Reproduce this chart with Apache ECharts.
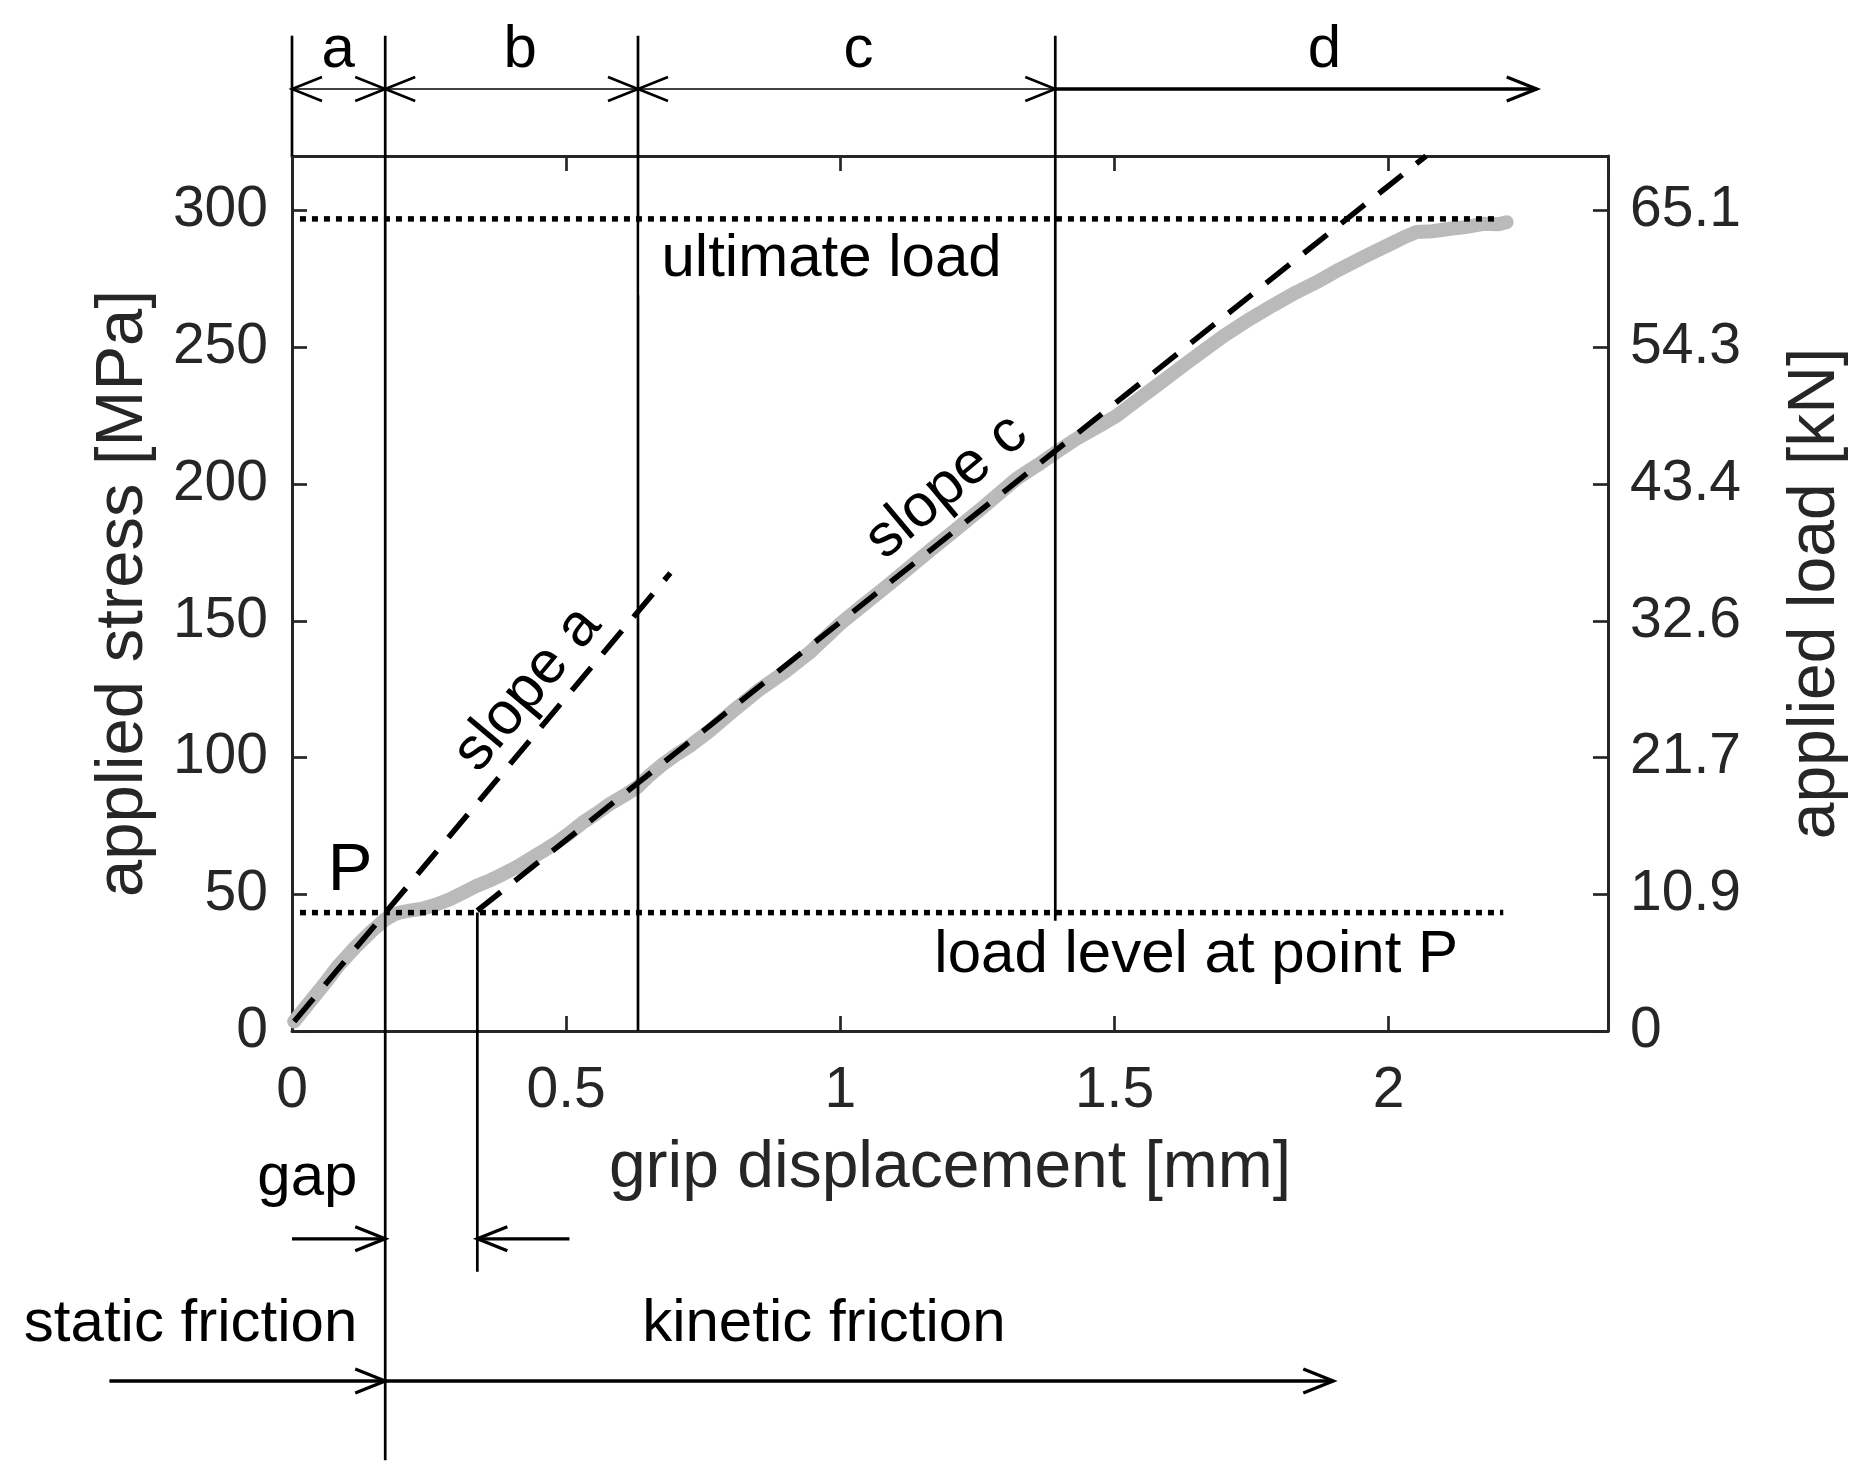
<!DOCTYPE html>
<html>
<head>
<meta charset="utf-8">
<script src="https://cdn.jsdelivr.net/npm/echarts@6/dist/echarts.min.js"></script>
<style>
  html, body { margin: 0; padding: 0; background: #fff; }
  #main { width: 1863px; height: 1481px; }
</style>
</head>
<body>
<div id="main"></div>
<script>
// axis ticks
const stressTicks = [0, 50, 100, 150, 200, 250, 300];
const loadLabels = ['0', '10.9', '21.7', '32.6', '43.4', '54.3', '65.1'];

// measured curve: grip displacement [mm], applied stress [MPa]
const curve = [
  [0.004, 3.5], [0.03, 10], [0.056, 16.4], [0.085, 24], [0.117, 31], [0.145, 36.5],
  [0.170, 40.8], [0.185, 42.5], [0.196, 43.3], [0.215, 44], [0.238, 44.7], [0.262, 46.2],
  [0.287, 48.1], [0.311, 50.5], [0.336, 53], [0.36, 55], [0.384, 57.3], [0.41, 60],
  [0.433, 62.8], [0.458, 65.8], [0.482, 68.9], [0.506, 72.3], [0.53, 76.2], [0.555, 79.5],
  [0.579, 82.9], [0.605, 86], [0.631, 89.4], [0.652, 93.5], [0.676, 97.5], [0.70, 101],
  [0.725, 104.2], [0.76, 109.5], [0.804, 117], [0.85, 124.5], [0.90, 131.5], [0.944, 138.4],
  [1.0, 149], [1.04, 155.5], [1.078, 161.6], [1.12, 168.5], [1.165, 176], [1.212, 183.6],
  [1.26, 191.5], [1.321, 201.9], [1.36, 207], [1.393, 211.6], [1.43, 216.5], [1.473, 221.4],
  [1.504, 225], [1.54, 230.5], [1.58, 236.5], [1.625, 243.3], [1.66, 248.5], [1.70, 254.3],
  [1.747, 260.4], [1.79, 265.5], [1.83, 270], [1.869, 273.9], [1.91, 278.5], [1.96, 283.6],
  [2.0, 287.5], [2.03, 290.5], [2.051, 292.2], [2.08, 292.5], [2.112, 293.4], [2.14, 294],
  [2.173, 295.2], [2.20, 295], [2.215, 295.8]
];

// fitted slopes
const slopeA = [[0.004, 3.5], [0.69, 167.5]];
const slopeC = [[0.338, 44], [2.068, 320]];

// reference levels
const ultimateLoad = [[0.0145, 297], [2.203, 297]];
const levelP = [[0.0145, 43.3], [2.209, 43.3]];

// boundary lines (x, y from, y to)
const boundaries = [
  [[0, 320], [0, 364]],
  [[0.170, -157], [0.170, 364]],
  [[0.631, 0], [0.631, 364]],
  [[1.392, 40.3], [1.392, 364]],
  [[0.338, -88], [0.338, 43.3]]
];

// arrows: x1, y1, x2, y2, head at start, head at end
const thinArrows = [
  [0, 344.5, 0.170, 344.5, 1, 1],
  [0.170, 344.5, 0.631, 344.5, 1, 1],
  [0.631, 344.5, 1.392, 344.5, 1, 1]
];
const thickArrows = [
  [1.392, 344.5, 2.27, 344.5, 0, 1],
  [0, -76, 0.170, -76, 0, 1],
  [0.506, -76, 0.338, -76, 0, 1],
  [-0.333, -128, 0.170, -128, 0, 1],
  [0.170, -128, 1.899, -128, 0, 1]
];

// annotation texts
const noteText = ['a', 'b', 'c', 'd', 'P', 'ultimate load', 'load level at point P',
  'slope a', 'slope c', 'gap', 'static friction', 'kinetic friction'];
const noteX = [0.084, 0.416, 1.033, 1.883, 0.106, 0.984, 1.649, 0.430, 1.194, 0.028, -0.185, 0.970];
const noteY = [358.5, 358.5, 358.5, 358.5, 58.5, 282.2, 27.6, 125, 199, -54, -107.3, -107.3];
const noteAngle = [0, 0, 0, 0, 0, 0, 0, 50, 40, 0, 0, 0];

const axisColor = '#262626';
const textFont = 'Liberation Sans';

const chart = echarts.init(document.getElementById('main'));

function arrowRender(width) {
  return function (params, api) {
    const p1 = api.coord([api.value(0), api.value(1)]);
    const p2 = api.coord([api.value(2), api.value(3)]);
    const children = [{
      type: 'line',
      shape: { x1: p1[0], y1: p1[1], x2: p2[0], y2: p2[1] },
      style: { stroke: '#000', lineWidth: width }
    }];
    const head = function (tip, from) {
      const dx = tip[0] - from[0], dy = tip[1] - from[1];
      const len = Math.sqrt(dx * dx + dy * dy);
      const ux = dx / len, uy = dy / len;
      const L = 30, W = 12;
      return {
        type: 'polyline',
        shape: { points: [
          [tip[0] - ux * L - uy * W, tip[1] - uy * L + ux * W],
          [tip[0], tip[1]],
          [tip[0] - ux * L + uy * W, tip[1] - uy * L - ux * W]
        ] },
        style: { stroke: '#000', fill: null, lineWidth: Math.max(width, 2.6) }
      };
    };
    if (api.value(4)) children.push(head(p1, p2));
    if (api.value(5)) children.push(head(p2, p1));
    return { type: 'group', children: children };
  };
}

const series = [];

series.push({
  name: 'measured', type: 'line', data: curve, symbol: 'none', z: 1, silent: true,
  lineStyle: { color: '#bababa', width: 14, cap: 'round', join: 'round' }
});

boundaries.forEach(function (seg) {
  series.push({
    type: 'line', data: seg, symbol: 'none', clip: false, z: 2, silent: true,
    lineStyle: { color: '#000', width: 2.7 }
  });
});

[ultimateLoad, levelP].forEach(function (seg) {
  series.push({
    type: 'line', data: seg, symbol: 'none', z: 3, silent: true,
    lineStyle: { color: '#000', width: 5.5, type: [6, 6], cap: 'butt' }
  });
});

[slopeA, slopeC].forEach(function (seg) {
  series.push({
    type: 'line', data: seg, symbol: 'none', z: 3, silent: true,
    lineStyle: { color: '#000', width: 5.5, type: [30, 18], cap: 'butt' }
  });
});

series.push({
  type: 'custom', data: thinArrows, renderItem: arrowRender(1.4), clip: false, z: 3, silent: true
});
series.push({
  type: 'custom', data: thickArrows, renderItem: arrowRender(3.3), clip: false, z: 3, silent: true
});

series.push({
  type: 'custom', clip: false, z: 4, silent: true,
  data: noteText.map(function (t, i) { return [noteX[i], noteY[i], i]; }),
  renderItem: function (params, api) {
    const i = api.value(2);
    const p = api.coord([api.value(0), api.value(1)]);
    const boxed = noteText[i] === 'ultimate load';
    return {
      type: 'text', x: p[0], y: p[1], rotation: noteAngle[i] * Math.PI / 180,
      style: {
        text: noteText[i], fontFamily: textFont,
        fontSize: noteText[i] === 'P' ? 67 : 60, fill: '#000',
        align: 'center', verticalAlign: 'middle',
        backgroundColor: boxed ? '#fff' : null,
        padding: boxed ? [6, 22] : 0
      }
    };
  }
});

function axisBase() {
  return {
    type: 'value',
    axisLine: { show: true, onZero: false, lineStyle: { color: axisColor, width: 3 } },
    axisTick: { show: true, inside: true, length: 15, lineStyle: { color: axisColor, width: 2.7 } },
    splitLine: { show: false }
  };
}

const tickLabel = { fontFamily: textFont, fontSize: 57, color: axisColor, showMaxLabel: false };
const titleStyle = { fontFamily: textFont, fontSize: 66, color: axisColor };

const option = {
  animation: false,
  backgroundColor: '#fff',
  grid: { left: 292, right: 255, top: 156, bottom: 450, containLabel: false },
  xAxis: [
    Object.assign(axisBase(), {
      min: 0, max: 2.4, interval: 0.5, position: 'bottom',
      name: 'grip displacement [mm]', nameLocation: 'middle', nameGap: 105,
      nameTextStyle: titleStyle,
      axisLabel: Object.assign({ margin: 32 }, tickLabel)
    }),
    Object.assign(axisBase(), {
      min: 0, max: 2.4, interval: 0.5, position: 'top',
      axisLabel: { show: false }
    })
  ],
  yAxis: [
    Object.assign(axisBase(), {
      min: 0, max: 320, interval: 50, position: 'left',
      name: 'applied stress [MPa]', nameLocation: 'middle', nameGap: 135, nameRotate: 90,
      nameTextStyle: Object.assign({}, titleStyle, { fontSize: 67 }),
      axisLabel: Object.assign({ margin: 24 }, tickLabel)
    }),
    Object.assign(axisBase(), {
      min: 0, max: 320, interval: 50, position: 'right',
      name: 'applied load [kN]', nameLocation: 'middle', nameGap: 175, nameRotate: 90,
      nameTextStyle: titleStyle,
      axisLabel: Object.assign({
        margin: 22,
        formatter: function (v) {
          const i = stressTicks.indexOf(v);
          return i >= 0 ? loadLabels[i] : '';
        }
      }, tickLabel)
    })
  ],
  series: series
};

chart.setOption(option);
</script>
</body>
</html>
